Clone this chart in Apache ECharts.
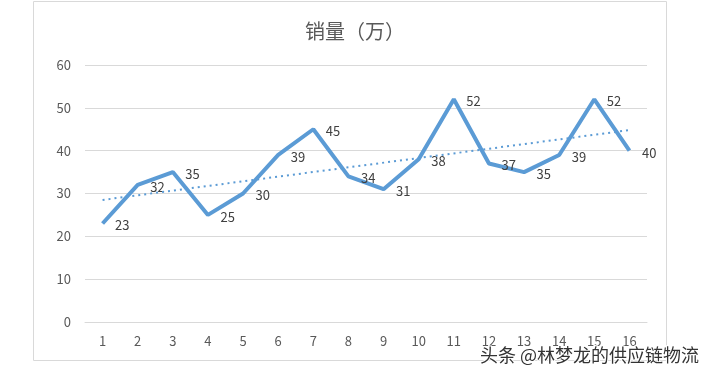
<!DOCTYPE html>
<html>
<head>
<meta charset="utf-8">
<script src="https://cdn.jsdelivr.net/npm/echarts@6/dist/echarts.min.js"></script>
<style>
  html, body { margin: 0; padding: 0; background: #fff; }
  #chart { width: 706px; height: 378px; }
</style>
</head>
<body>
<div id="chart"></div>
<script>
// 横轴：第几期
const categories = ['1', '2', '3', '4', '5', '6', '7', '8', '9', '10', '11', '12', '13', '14', '15', '16']
// 销量（万）
const sales = [23, 32, 35, 25, 30, 39, 45, 34, 31, 38, 52, 37, 35, 39, 52, 40]
// 趋势线两端的值
const trendEnds = [28.5, 44.8]
const yTicks = [0, 10, 20, 30, 40, 50, 60]

const font = '"Microsoft YaHei", "Noto Sans CJK SC", sans-serif'
const blue = '#5b9bd5'

const chart = echarts.init(document.getElementById('chart'), null, { renderer: 'canvas' })

chart.setOption({
    animation: false,
    title: {
        text: '销量（万）',
        left: 350,
        top: 16,
        textAlign: 'center',
        textStyle: { color: '#595959', fontSize: 20, fontWeight: 'normal', fontFamily: font }
    },
    grid: { left: 85, right: 59, top: 65, bottom: 56 },
    xAxis: {
        type: 'category',
        data: categories,
        boundaryGap: true,
        axisLine: { lineStyle: { color: '#d9d9d9' } },
        axisTick: { show: false },
        axisLabel: { color: '#595959', fontSize: 13, margin: 13, fontFamily: font }
    },
    yAxis: {
        type: 'value',
        min: yTicks[0],
        max: yTicks[yTicks.length - 1],
        interval: 10,
        axisLine: { show: false },
        axisTick: { show: false },
        splitLine: { lineStyle: { color: '#d9d9d9' } },
        axisLabel: { color: '#595959', fontSize: 13, margin: 14, fontFamily: font }
    },
    series: [
        {
            name: '销量',
            type: 'line',
            data: sales,
            // 点本身不画，只用它挂数据标签
            symbol: 'circle',
            symbolSize: 1,
            itemStyle: { color: 'rgba(0,0,0,0)' },
            lineStyle: { color: blue, width: 4 },
            label: {
                show: true,
                position: 'right',
                distance: 12,
                offset: [0, 2],
                color: '#404040',
                fontSize: 13,
                fontFamily: font
            },
            markLine: {
                silent: true,
                symbol: 'none',
                label: { show: false },
                lineStyle: { color: blue, width: 2, type: [2, 4] },
                data: [[
                    { coord: [categories[0], trendEnds[0]] },
                    { coord: [categories[categories.length - 1], trendEnds[1]] }
                ]]
            }
        }
    ],
    graphic: [
        {
            type: 'rect',
            shape: { x: 33.5, y: 1.5, width: 633, height: 359 },
            style: { fill: 'none', stroke: '#d9d9d9', lineWidth: 1 },
            z: -1
        },
        {
            type: 'text',
            right: 6,
            top: 345,
            style: {
                text: '头条 @林梦龙的供应链物流',
                fill: '#333',
                stroke: '#fff',
                lineWidth: 2,
                fontSize: 18,
                fontFamily: font
            },
            z: 100
        }
    ]
})
</script>
</body>
</html>
